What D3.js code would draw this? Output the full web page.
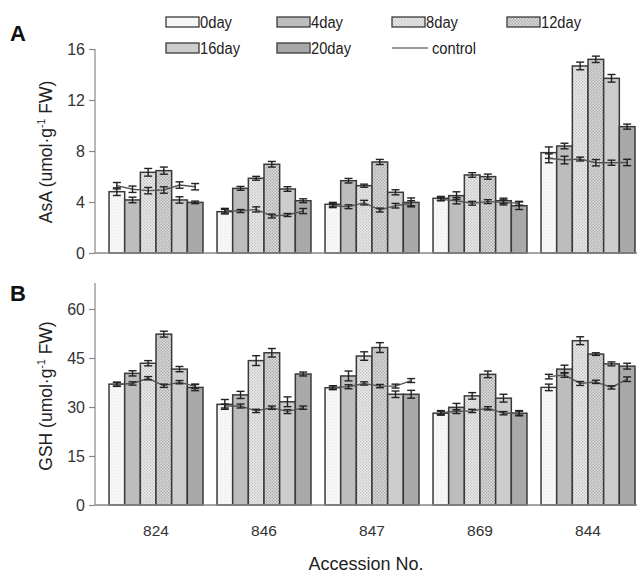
<!DOCTYPE html>
<html><head><meta charset="utf-8">
<script src="https://cdn.jsdelivr.net/npm/d3@7/dist/d3.min.js"></script>
<style>body{margin:0;background:#fff}svg{display:block;font-family:"Liberation Sans",Arial,sans-serif}</style>
</head><body><svg id="c" width="639" height="576"></svg>
<script>
const categories = ["824","846","847","869","844"];
const series = ["0day","4day","8day","12day","16day","20day"];
const asaTicks = [0,4,8,12,16];
const gshTicks = [0,15,30,45,60];

const asaMean = [
  [4.81,4.16,6.33,6.46,4.16,3.97],
  [3.24,5.07,5.86,6.96,5.02,4.10],
  [3.82,5.67,5.28,7.14,4.76,3.97],
  [4.29,4.50,6.12,5.99,4.10,3.71],
  [7.87,8.39,14.67,15.19,13.70,9.91]];
const asaErr = [
  [0.30,0.22,0.30,0.28,0.25,0.10],
  [0.18,0.15,0.15,0.22,0.18,0.15],
  [0.15,0.18,0.12,0.20,0.20,0.35],
  [0.15,0.30,0.18,0.20,0.20,0.30],
  [0.45,0.22,0.30,0.25,0.30,0.20]];
const asaCtrl = [
  [5.28,5.00,4.89,4.94,5.33,5.20],
  [3.32,3.29,3.42,2.90,2.98,3.29],
  [3.71,3.63,3.95,3.37,3.71,3.90],
  [4.21,4.10,3.90,4.03,3.97,3.90],
  [7.43,7.29,7.37,7.08,7.08,7.10]];
const asaCtrlErr = [
  [0.25,0.25,0.25,0.25,0.25,0.25],
  [0.18,0.12,0.20,0.15,0.12,0.20],
  [0.15,0.15,0.18,0.15,0.18,0.20],
  [0.12,0.25,0.15,0.15,0.20,0.15],
  [0.35,0.30,0.15,0.25,0.20,0.25]];

const gshMean = [
  [37.0,40.3,43.4,52.3,41.6,36.0],
  [30.8,33.7,44.2,46.6,31.6,40.1],
  [35.9,39.5,45.6,48.2,33.9,33.9],
  [28.1,29.9,33.4,40.0,32.7,28.1],
  [36.0,41.6,50.3,46.2,43.2,42.5]];
const gshErr = [
  [0.6,0.8,0.8,0.9,0.8,1.0],
  [1.5,1.1,1.5,1.3,1.5,0.6],
  [0.6,1.5,1.3,1.5,1.0,1.2],
  [0.6,1.2,1.0,1.0,1.2,0.8],
  [1.0,1.2,1.2,0.4,0.6,0.9]];
const gshCtrl = [
  [36.9,37.2,38.8,36.5,37.6,36.3],
  [30.3,30.3,28.8,29.8,28.6,29.8],
  [36.0,36.2,37.2,36.4,36.4,38.1],
  [28.3,28.6,28.8,29.6,28.1,28.1],
  [39.3,39.8,37.2,37.7,36.0,38.5]];
const gshCtrlErr = [
  [0.6,0.5,0.5,0.5,0.5,0.6],
  [0.6,0.6,0.5,0.5,0.6,0.5],
  [0.5,0.6,0.5,0.5,0.6,0.6],
  [0.6,0.6,0.5,0.5,0.5,0.6],
  [0.7,0.7,0.6,0.5,0.5,0.7]];

const svg = d3.select("#c");
const defs = svg.append("defs");
function dotPattern(id, bg, dot, size, r){
  const p = defs.append("pattern").attr("id",id).attr("width",size).attr("height",size).attr("patternUnits","userSpaceOnUse");
  p.append("rect").attr("width",size).attr("height",size).attr("fill",bg);
  p.append("circle").attr("cx",size/4).attr("cy",size/4).attr("r",r).attr("fill",dot);
  p.append("circle").attr("cx",3*size/4).attr("cy",3*size/4).attr("r",r).attr("fill",dot);
}
dotPattern("p0","#fbfbfb","#e2e2e2",3,0.6);
dotPattern("p8","#ececec","#b8b8b8",3,0.7);
dotPattern("p12","#dcdcdc","#a0a0a0",3,0.75);
const fills = ["url(#p0)","#bdbdbd","url(#p8)","url(#p12)","#cdcdcd","#a9a9a9"];
const stroke = "#3a3a3a";

const x0 = d3.scaleBand().domain(categories).range([102,642]).paddingInner(0.13).paddingOuter(0.065);
const x1 = d3.scaleBand().domain(series).range([0,x0.bandwidth()]);

function panel(cfg){
  const y = d3.scaleLinear().domain(cfg.domain).range([cfg.y0,cfg.yTop]);
  const g = svg.append("g");
  const ax = g.append("g").attr("transform","translate(95,0)")
    .call(d3.axisLeft(y).tickValues(cfg.ticks).tickSize(6).tickPadding(4).tickSizeOuter(0));
  ax.select(".domain").remove();
  ax.selectAll(".tick line").attr("stroke","#888").attr("stroke-width",1.2);
  ax.selectAll(".tick text").attr("font-size",16).attr("fill","#333").attr("font-family","Liberation Sans, Arial, sans-serif");
  g.append("line").attr("x1",95).attr("x2",95).attr("y1",y(0)).attr("y2",cfg.axisTop).attr("stroke","#888").attr("stroke-width",1.2);
  categories.forEach((c,ci)=>{
    const gx = x0(c);
    series.forEach((s,si)=>{
      const v = cfg.mean[ci][si];
      g.append("rect").attr("x",gx+x1(s)).attr("y",y(v)).attr("width",x1.bandwidth()).attr("height",y(0)-y(v))
        .attr("fill",fills[si]).attr("stroke",stroke).attr("stroke-width",1.5);
    });
  });
  g.append("line").attr("x1",95).attr("x2",637).attr("y1",y(0)).attr("y2",y(0)).attr("stroke","#888").attr("stroke-width",1.5);
  function errbar(cx, v, e){
    g.append("line").attr("x1",cx).attr("x2",cx).attr("y1",y(v-e)).attr("y2",y(v+e)).attr("stroke","#222").attr("stroke-width",1.4);
    [v-e,v+e].forEach(t=>g.append("line").attr("x1",cx-4).attr("x2",cx+4).attr("y1",y(t)).attr("y2",y(t)).attr("stroke","#222").attr("stroke-width",1.4));
  }
  categories.forEach((c,ci)=>{
    const gx = x0(c);
    series.forEach((s,si)=>errbar(gx+x1(s)+x1.bandwidth()/2, cfg.mean[ci][si], cfg.err[ci][si]));
  });
  const line = d3.line().x(d=>d[0]).y(d=>y(d[1]));
  categories.forEach((c,ci)=>{
    const gx = x0(c);
    const pts = series.map((s,si)=>[gx+x1(s)+x1.bandwidth()/2, cfg.ctrl[ci][si]]);
    g.append("path").attr("d",line(pts)).attr("fill","none").attr("stroke","#555").attr("stroke-width",1.4);
    series.forEach((s,si)=>errbar(gx+x1(s)+x1.bandwidth()/2, cfg.ctrl[ci][si], cfg.ctrlErr[ci][si]));
  });
  const t = g.append("text").attr("transform",`translate(${cfg.titleX},${cfg.titleY}) rotate(-90)`).attr("text-anchor","middle")
    .attr("font-size",17.5).attr("fill","#222");
  t.append("tspan").text(cfg.title+" (umol·g");
  t.append("tspan").attr("font-size",10.5).attr("dy",-7).text("-1");
  t.append("tspan").attr("dy",7).text(" FW)");
  svg.append("text").attr("x",10).attr("y",cfg.letterY).attr("font-size",22).attr("font-weight","bold").attr("fill","#111").text(cfg.letter);
  return y;
}

panel({domain:[0,16], y0:253, yTop:49, axisTop:49, ticks:asaTicks, mean:asaMean, err:asaErr, ctrl:asaCtrl, ctrlErr:asaCtrlErr,
  title:"AsA", titleX:52, titleY:152, letter:"A", letterY:41});
panel({domain:[0,60], y0:505, yTop:309, axisTop:283, ticks:gshTicks, mean:gshMean, err:gshErr, ctrl:gshCtrl, ctrlErr:gshCtrlErr,
  title:"GSH", titleX:52, titleY:396, letter:"B", letterY:301});

svg.append("g").selectAll("text").data(categories).join("text")
  .attr("x",d=>x0(d)+x0.bandwidth()/2).attr("y",536).attr("text-anchor","middle")
  .attr("font-size",15.5).attr("fill","#333").text(d=>d);
svg.append("text").attr("x",366).attr("y",570).attr("text-anchor","middle").attr("font-size",18).attr("fill","#222").text("Accession No.");

const legendItems = series.concat(["control"]);
const lx = [166,277,392,507,166,277,392];
const ly = [22,22,22,22,48,48,48];
const lg = svg.append("g");
legendItems.forEach((name,i)=>{
  if(name==="control"){
    lg.append("line").attr("x1",lx[i]).attr("x2",lx[i]+36).attr("y1",ly[i]).attr("y2",ly[i]).attr("stroke","#777").attr("stroke-width",1.6);
    lg.append("text").attr("x",lx[i]+40).attr("y",ly[i]+6).attr("font-size",16).attr("fill","#222").attr("textLength",44).attr("lengthAdjust","spacingAndGlyphs").text(name);
  } else {
    lg.append("rect").attr("x",lx[i]).attr("y",ly[i]-5).attr("width",33).attr("height",10)
      .attr("fill",fills[i]).attr("stroke",stroke).attr("stroke-width",1.3);
    lg.append("text").attr("x",lx[i]+34).attr("y",ly[i]+6).attr("font-size",16).attr("fill","#222")
      .attr("textLength",name.length*8).attr("lengthAdjust","spacingAndGlyphs").text(name);
  }
});
</script></body></html>
